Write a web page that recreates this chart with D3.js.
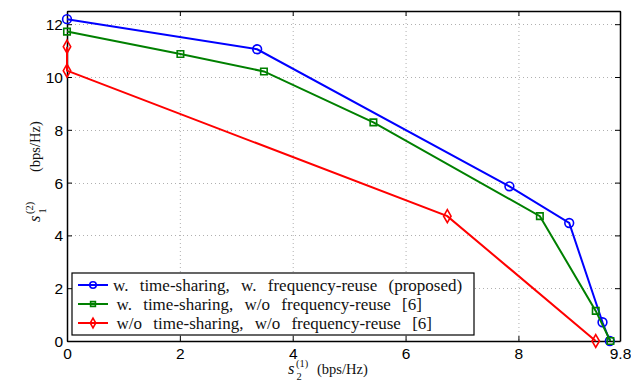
<!DOCTYPE html>
<html>
<head>
<meta charset="utf-8">
<script src="https://cdn.jsdelivr.net/npm/d3@7"></script>
<style>
  body { margin: 0; background: #fff; }
  svg { display: block; }
  .tick text { font-family: "Liberation Sans", Arial, sans-serif; font-size: 15.5px; fill: #000; }
</style>
</head>
<body>
<script>
// curve points: [s2(1), s1(2)]
const proposed = [[0, 12.19], [3.37, 11.05], [7.84, 5.86], [8.9, 4.47], [9.49, 0.71], [9.62, 0]];
const tsNoReuse = [[0, 11.72], [2.01, 10.87], [3.49, 10.21], [5.43, 8.28], [8.38, 4.73], [9.37, 1.14], [9.63, 0]];
const noTsNoReuse = [[0, 11.15], [0, 10.24], [6.74, 4.73], [9.37, 0]];

const seriesNames = [
  'w. time-sharing, w. frequency-reuse (proposed)',
  'w. time-sharing, w/o frequency-reuse [6]',
  'w/o time-sharing, w/o frequency-reuse [6]'
];
const xTicks = [0, 2, 4, 6, 8, 9.8];
const yTicks = [0, 2, 4, 6, 8, 10, 12];

const W = 631, H = 381;
const m = { left: 67, right: 11, top: 11, bottom: 40 };
const serif = '"Liberation Serif", "Times New Roman", serif';

const svg = d3.select('body').append('svg').attr('width', W).attr('height', H);

const x = d3.scaleLinear().domain([0, 9.8]).range([m.left, W - m.right]);
const y = d3.scaleLinear().domain([0, 12.5]).range([H - m.bottom, m.top]);

// dotted grid
const grid = svg.append('g').attr('stroke', '#b0b0b0').attr('stroke-width', 1).attr('stroke-dasharray', '1,3');
grid.selectAll('.gx').data(xTicks.slice(1, -1)).enter().append('line')
  .attr('x1', d => x(d) + 0.5).attr('x2', d => x(d) + 0.5)
  .attr('y1', y.range()[1]).attr('y2', y.range()[0]);
grid.selectAll('.gy').data(yTicks.slice(1)).enter().append('line')
  .attr('y1', d => Math.round(y(d)) + 0.5).attr('y2', d => Math.round(y(d)) + 0.5)
  .attr('x1', x.range()[0]).attr('x2', x.range()[1]);

// axes: ticks point inward on all four sides
const fmtX = d => d === 9.8 ? '9.8' : d3.format('d')(d);
const axBottom = svg.append('g').attr('transform', `translate(0,${y(0)})`)
  .call(d3.axisBottom(x).tickValues(xTicks).tickFormat(fmtX).tickSizeInner(-5).tickSizeOuter(0).tickPadding(7));
const axTop = svg.append('g').attr('transform', `translate(0,${y.range()[1]})`)
  .call(d3.axisTop(x).tickValues(xTicks).tickFormat('').tickSizeInner(-5).tickSizeOuter(0));
const axLeft = svg.append('g').attr('transform', `translate(${x(0)},0)`)
  .call(d3.axisLeft(y).tickValues(yTicks).tickFormat(d3.format('d')).tickSizeInner(-5).tickSizeOuter(0).tickPadding(4));
const axRight = svg.append('g').attr('transform', `translate(${x.range()[1]},0)`)
  .call(d3.axisRight(y).tickValues(yTicks).tickFormat('').tickSizeInner(-5).tickSizeOuter(0));
[axBottom, axTop, axLeft, axRight].forEach(g => {
  g.select('.domain').attr('stroke', '#000').attr('stroke-width', 1.5);
  g.selectAll('.tick line').attr('stroke', '#000').attr('stroke-width', 1);
});
axLeft.selectAll('.tick text').attr('dy', '0.36em');

// series
const series = [
  { data: proposed, color: '#0000ff', marker: 'circle' },
  { data: tsNoReuse, color: '#008000', marker: 'square' },
  { data: noTsNoReuse, color: '#ff0000', marker: 'diamond' }
];
const symbols = { circle: d3.symbolCircle, square: d3.symbolSquare, diamond: d3.symbolDiamond };
const sizes = { circle: 60, square: 42, diamond: 48 };
const line = d3.line().x(d => x(d[0])).y(d => y(d[1]));

function marker(g, type, color, k) {
  g.append('path')
    .attr('d', d3.symbol().type(symbols[type]).size(sizes[type] * k)())
    .attr('fill', 'none').attr('stroke', color).attr('stroke-width', 1.6);
}

series.forEach(s => {
  svg.append('path').datum(s.data)
    .attr('d', line).attr('fill', 'none')
    .attr('stroke', s.color).attr('stroke-width', 2);
  s.data.forEach(p => {
    const g = svg.append('g').attr('transform', `translate(${x(p[0])},${y(p[1])})`);
    marker(g, s.marker, s.color, 1);
  });
});

// legend
const lg = svg.append('g').attr('transform', 'translate(72,273)');
lg.append('rect').attr('width', 402).attr('height', 62)
  .attr('fill', '#fff').attr('stroke', '#000').attr('stroke-width', 1.2);
series.forEach((s, i) => {
  const cy = 12 + i * 19;
  lg.append('line').attr('x1', 6).attr('x2', 36).attr('y1', cy).attr('y2', cy)
    .attr('stroke', s.color).attr('stroke-width', 2);
  marker(lg.append('g').attr('transform', `translate(21,${cy})`), s.marker, s.color, 0.55);
  lg.append('text').attr('x', i === 0 ? 41 : 44.5).attr('y', cy + 5.5)
    .attr('font-family', serif).attr('font-size', 17)
    .style('word-spacing', '7px')
    .attr('fill', '#111').text(seriesNames[i]);
});

// axis labels: italic s with sub- and superscript, then units
function mathLabel(g, sub, sup, size, gap) {
  g.append('text').attr('x', 0).attr('y', 0).attr('font-family', serif)
    .attr('font-style', 'italic').attr('font-size', size + 2).attr('fill', '#111').text('s');
  g.append('text').attr('x', 8).attr('y', -7).attr('font-family', serif)
    .attr('font-size', 10.5).attr('fill', '#111').text(sup);
  g.append('text').attr('x', 8.5).attr('y', 5.5).attr('font-family', serif)
    .attr('font-size', 10.5).attr('fill', '#111').text(sub);
  g.append('text').attr('x', gap).attr('y', 0).attr('font-family', serif)
    .attr('font-size', size).attr('fill', '#111').text('(bps/Hz)');
}
mathLabel(svg.append('g').attr('transform', 'translate(288,374)'), '2', '(1)', 14.5, 29);
mathLabel(svg.append('g').attr('transform', 'translate(40,222) rotate(-90)'), '1', '(2)', 14.5, 50);
</script>
</body>
</html>
